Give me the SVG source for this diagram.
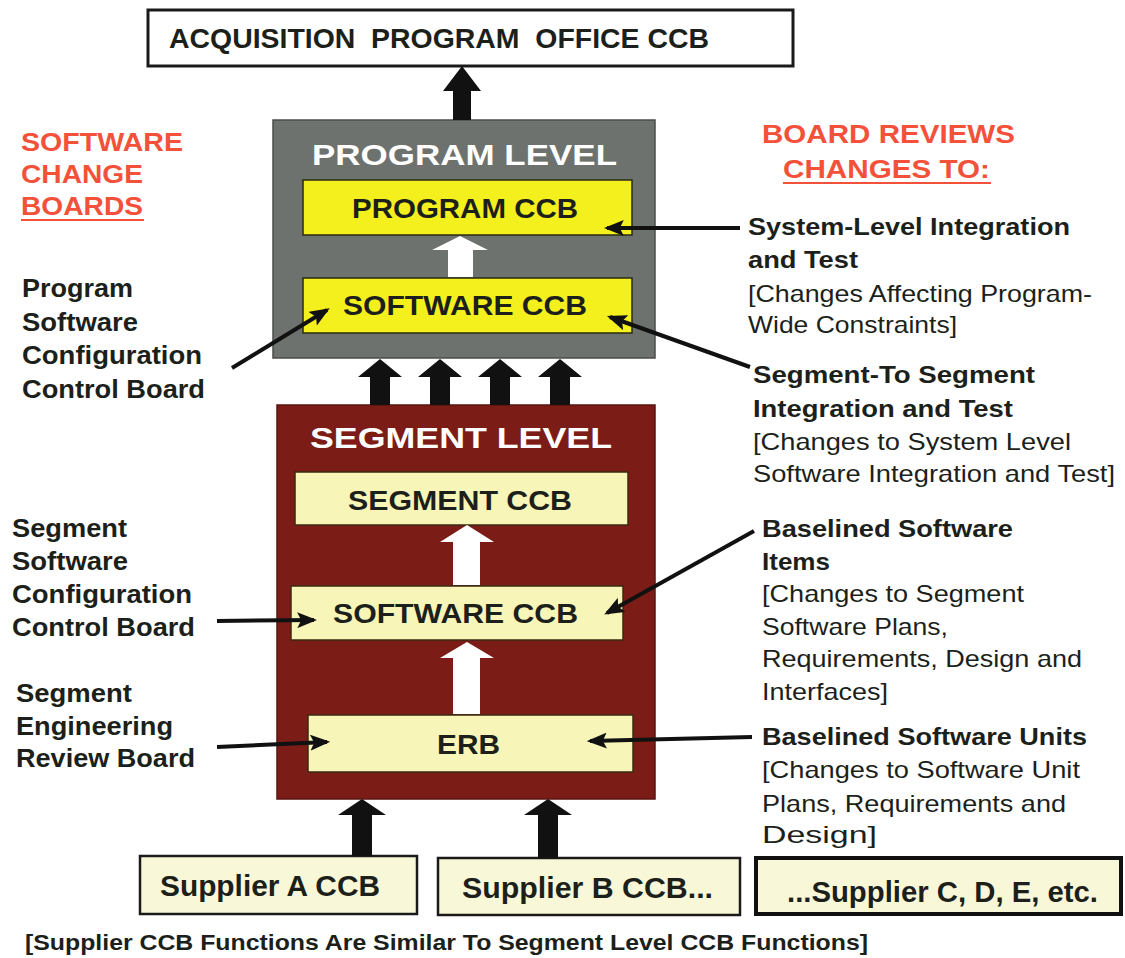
<svg xmlns="http://www.w3.org/2000/svg" width="1125" height="958" viewBox="0 0 1125 958">
<style>
text{font-family:"Liberation Sans",Arial,sans-serif;fill:#1c1f1a}
.b{font-weight:bold}
.box{font-weight:bold;font-size:28px}
.sup{font-weight:bold;font-size:29px}
.lvl{font-weight:bold;font-size:30px;fill:#ffffff}
.or{font-weight:bold;font-size:25px;fill:#f4513a}
.lb{font-weight:bold;font-size:25px}
.rb{font-weight:bold;font-size:24px}
.rr{font-size:24px}
.yb{fill:#f4f01e;stroke:#2a2a12;stroke-width:1.5}
.pb{fill:#f8f5b8;stroke:#3a2a12;stroke-width:1.5}
.sb{fill:#f8f8d8;stroke:#1a1a1a;stroke-width:2.5}
.blk{fill:#111111}
.wht{fill:#ffffff}
.con{stroke:#111111;stroke-width:4;fill:none;marker-end:url(#ah)}
</style>
<defs>
<marker id="ah" markerWidth="5" markerHeight="4" refX="4.2" refY="2" orient="auto" markerUnits="strokeWidth">
<path d="M0,0 L5,2 L0,4 L1,2 Z" fill="#111111"/>
</marker>
</defs>
<rect width="1125" height="958" fill="#ffffff"/>

<g id="acq">
<rect x="148" y="10" width="645" height="56" fill="#ffffff" stroke="#1a1a1a" stroke-width="3"/>
<text class="b" x="169" y="48" font-size="28" textLength="540" lengthAdjust="spacingAndGlyphs" xml:space="preserve">ACQUISITION  PROGRAM  OFFICE CCB</text>
</g>

<g id="program-level">
<rect x="273" y="120" width="382" height="238" fill="#6d726e" stroke="#4a4d4a" stroke-width="1.5"/>
<text class="lvl" x="312" y="165" textLength="305" lengthAdjust="spacingAndGlyphs">PROGRAM LEVEL</text>
</g>
<g id="program-ccb">
<rect class="yb" x="303" y="180" width="329" height="55"/>
<text class="box" x="352" y="218" textLength="226" lengthAdjust="spacingAndGlyphs">PROGRAM CCB</text>
</g>
<g id="program-software-ccb">
<rect class="yb" x="303" y="278" width="329" height="55"/>
<text class="box" x="343" y="315" textLength="244" lengthAdjust="spacingAndGlyphs">SOFTWARE CCB</text>
</g>

<g id="segment-level">
<rect x="277" y="405" width="378" height="394" fill="#7b1c16" stroke="#5a1410" stroke-width="1.5"/>
<text class="lvl" x="310" y="448" textLength="302" lengthAdjust="spacingAndGlyphs">SEGMENT LEVEL</text>
</g>
<g id="segment-ccb">
<rect class="pb" x="295" y="472" width="333" height="53"/>
<text class="box" x="348" y="510" textLength="224" lengthAdjust="spacingAndGlyphs">SEGMENT CCB</text>
</g>
<g id="segment-software-ccb">
<rect class="pb" x="291" y="586" width="332" height="54"/>
<text class="box" x="333" y="623" textLength="245" lengthAdjust="spacingAndGlyphs">SOFTWARE CCB</text>
</g>
<g id="erb">
<rect class="pb" x="308" y="715" width="325" height="57"/>
<text class="box" x="437" y="754" textLength="63" lengthAdjust="spacingAndGlyphs">ERB</text>
</g>

<g id="supplier-a">
<rect class="sb" x="140" y="856" width="277" height="58"/>
<text class="sup" x="160" y="896" textLength="220" lengthAdjust="spacingAndGlyphs">Supplier A CCB</text>
</g>
<g id="supplier-b">
<rect class="sb" x="438" y="858" width="302" height="57"/>
<text class="sup" x="462" y="898" textLength="251" lengthAdjust="spacingAndGlyphs">Supplier B CCB...</text>
</g>
<g id="supplier-c">
<rect x="756" y="858" width="365" height="56" fill="#f8f8d8" stroke="#111111" stroke-width="4"/>
<text class="sup" x="787" y="902" textLength="311" lengthAdjust="spacingAndGlyphs">...Supplier C, D, E, etc.</text>
</g>

<g id="connectors">
<polygon class="blk" points="462,66 481,91 471,91 471,120 453,120 453,91 443,91"/>
<polygon class="blk" points="380,359 402,377 390,377 390,405 370,405 370,377 358,377"/>
<polygon class="blk" points="440,359 462,377 450,377 450,405 430,405 430,377 418,377"/>
<polygon class="blk" points="500,359 522,377 510,377 510,405 490,405 490,377 478,377"/>
<polygon class="blk" points="560,359 582,377 570,377 570,405 550,405 550,377 538,377"/>
<polygon class="blk" points="362,799 386,815 372,815 372,856 352,856 352,815 338,815"/>
<polygon class="blk" points="548,799 572,815 558,815 558,858 538,858 538,815 524,815"/>
<polygon class="wht" points="460,236 488,250 473,250 473,277 448,277 448,250 432,250"/>
<polygon class="wht" points="467,525 494,542 480,542 480,585 453,585 453,542 440,542"/>
<polygon class="wht" points="467,642 494,658 480,658 480,714 453,714 453,658 440,658"/>
<line class="con" x1="232" y1="368" x2="327" y2="310"/>
<line class="con" x1="740" y1="228" x2="607" y2="228"/>
<line class="con" x1="750" y1="367" x2="610" y2="317"/>
<line class="con" x1="217" y1="621" x2="314" y2="620"/>
<line class="con" x1="754" y1="531" x2="607" y2="613"/>
<line class="con" x1="217" y1="747" x2="327" y2="742"/>
<line class="con" x1="752" y1="737" x2="590" y2="741"/>
</g>

<g id="left-labels">
<text class="or" x="21" y="151" textLength="162" lengthAdjust="spacingAndGlyphs">SOFTWARE</text>
<text class="or" x="21" y="183" textLength="122" lengthAdjust="spacingAndGlyphs">CHANGE</text>
<text class="or" x="21" y="215" textLength="122" lengthAdjust="spacingAndGlyphs">BOARDS</text>
<line x1="21" y1="220" x2="144" y2="220" stroke="#f4513a" stroke-width="2"/>
<text class="lb" x="22" y="297" textLength="111" lengthAdjust="spacingAndGlyphs">Program</text>
<text class="lb" x="22" y="331" textLength="116" lengthAdjust="spacingAndGlyphs">Software</text>
<text class="lb" x="22" y="364" textLength="180" lengthAdjust="spacingAndGlyphs">Configuration</text>
<text class="lb" x="22" y="398" textLength="183" lengthAdjust="spacingAndGlyphs">Control Board</text>
<text class="lb" x="12" y="537" textLength="115" lengthAdjust="spacingAndGlyphs">Segment</text>
<text class="lb" x="12" y="570" textLength="116" lengthAdjust="spacingAndGlyphs">Software</text>
<text class="lb" x="12" y="603" textLength="180" lengthAdjust="spacingAndGlyphs">Configuration</text>
<text class="lb" x="12" y="636" textLength="183" lengthAdjust="spacingAndGlyphs">Control Board</text>
<text class="lb" x="16" y="702" textLength="116" lengthAdjust="spacingAndGlyphs">Segment</text>
<text class="lb" x="16" y="735" textLength="157" lengthAdjust="spacingAndGlyphs">Engineering</text>
<text class="lb" x="16" y="767" textLength="179" lengthAdjust="spacingAndGlyphs">Review Board</text>
</g>

<g id="right-labels">
<text class="or" x="762" y="143" font-size="26" textLength="253" lengthAdjust="spacingAndGlyphs">BOARD REVIEWS</text>
<text class="or" x="783" y="178" font-size="26" textLength="207" lengthAdjust="spacingAndGlyphs">CHANGES TO:</text>
<line x1="783" y1="183" x2="991" y2="183" stroke="#f4513a" stroke-width="2"/>
<text class="rb" x="748" y="235" textLength="322" lengthAdjust="spacingAndGlyphs">System-Level Integration</text>
<text class="rb" x="748" y="268" textLength="110" lengthAdjust="spacingAndGlyphs">and Test</text>
<text class="rr" x="748" y="302" textLength="344" lengthAdjust="spacingAndGlyphs">[Changes Affecting Program-</text>
<text class="rr" x="748" y="333" textLength="209" lengthAdjust="spacingAndGlyphs">Wide Constraints]</text>
<text class="rb" x="753" y="383" textLength="282" lengthAdjust="spacingAndGlyphs">Segment-To Segment</text>
<text class="rb" x="753" y="417" textLength="260" lengthAdjust="spacingAndGlyphs">Integration and Test</text>
<text class="rr" x="753" y="450" textLength="318" lengthAdjust="spacingAndGlyphs">[Changes to System Level</text>
<text class="rr" x="753" y="482" textLength="362" lengthAdjust="spacingAndGlyphs">Software Integration and Test]</text>
<text class="rb" x="762" y="537" textLength="251" lengthAdjust="spacingAndGlyphs">Baselined Software</text>
<text class="rb" x="762" y="570" textLength="68" lengthAdjust="spacingAndGlyphs">Items</text>
<text class="rr" x="762" y="602" textLength="262" lengthAdjust="spacingAndGlyphs">[Changes to Segment</text>
<text class="rr" x="762" y="635" textLength="186" lengthAdjust="spacingAndGlyphs">Software Plans,</text>
<text class="rr" x="762" y="667" textLength="320" lengthAdjust="spacingAndGlyphs">Requirements, Design and</text>
<text class="rr" x="762" y="700" textLength="126" lengthAdjust="spacingAndGlyphs">Interfaces]</text>
<text class="rb" x="762" y="745" textLength="325" lengthAdjust="spacingAndGlyphs">Baselined Software Units</text>
<text class="rr" x="762" y="778" textLength="318" lengthAdjust="spacingAndGlyphs">[Changes to Software Unit</text>
<text class="rr" x="762" y="812" textLength="304" lengthAdjust="spacingAndGlyphs">Plans, Requirements and</text>
<text class="rr" x="762" y="843" textLength="115" lengthAdjust="spacingAndGlyphs">Design]</text>
</g>

<g id="footer">
<text class="b" x="25" y="950" font-size="22" textLength="843" lengthAdjust="spacingAndGlyphs">[Supplier CCB Functions Are Similar To Segment Level CCB Functions]</text>
</g>
</svg>
